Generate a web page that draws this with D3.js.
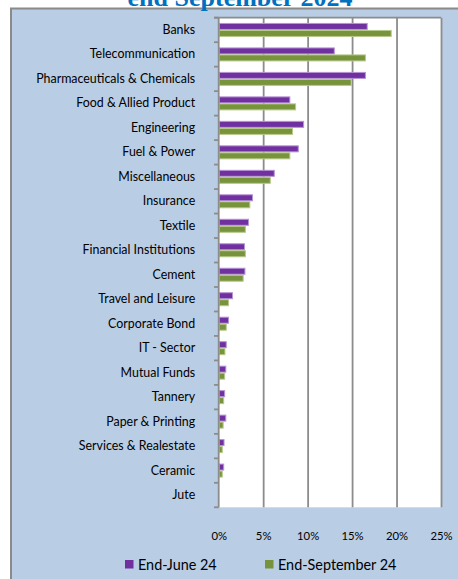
<!DOCTYPE html>
<html><head><meta charset="utf-8">
<script src="https://cdn.jsdelivr.net/npm/d3@7"></script>
<style>html,body{margin:0;padding:0;background:#fff;overflow:hidden}</style>
</head><body>
<svg id="c" width="458" height="579"></svg>
<script>
const categories = ["Banks","Telecommunication","Pharmaceuticals & Chemicals","Food & Allied Product","Engineering","Fuel & Power","Miscellaneous","Insurance","Textile","Financial Institutions","Cement","Travel and Leisure","Corporate Bond","IT - Sector","Mutual Funds","Tannery","Paper & Printing","Services & Realestate","Ceramic","Jute"];
const seriesNames = ["End-June 24","End-September 24"];
const juneValues = [16.7,13.0,16.5,8.0,9.55,8.95,6.25,3.8,3.35,2.9,2.95,1.55,1.1,0.85,0.8,0.67,0.8,0.6,0.56,0.05];
const septValues = [19.4,16.5,14.9,8.65,8.3,8.0,5.8,3.5,3.0,3.0,2.75,1.1,0.85,0.7,0.67,0.56,0.5,0.4,0.4,0.05];
const xTicks = [0,5,10,15,20,25];
const colors = ["#7030A0","#77933C"];
const edge = ["#B793D6","#B5C98A"];

const svg = d3.select("#c");
const F = "Lato, 'Open Sans', sans-serif";

// frame
svg.append("rect").attr("x",11).attr("y",8.5).attr("width",470).attr("height",600)
  .attr("fill","#B9CDE5").attr("stroke","#8a8a8a").attr("stroke-width",2);

// title (cut off at top, as in the reference)
svg.append("text").attr("x",240).attr("y",6).attr("text-anchor","middle")
  .attr("font-family","'Liberation Serif', 'Times New Roman', serif").attr("font-weight","bold")
  .attr("font-size",26).attr("fill","#0070C0").text("end September 2024");

const L = 218.7, R = 441, T = 17.7, B = 507.3;
const x = d3.scaleLinear().domain([0,25]).range([L,R]);
const y = d3.scaleBand().domain(categories).range([T,B]).paddingInner(0.428).paddingOuter(0.214);
const ys = d3.scaleBand().domain(seriesNames).range([0,y.bandwidth()]);

svg.append("rect").attr("x",L).attr("y",T).attr("width",R-L).attr("height",B-T).attr("fill","#fff");

// gridlines
const grid = svg.append("g").attr("transform",`translate(0,${T})`)
  .call(d3.axisBottom(x).tickValues(xTicks.slice(1)).tickSize(B-T).tickFormat(""));
grid.select(".domain").remove();
grid.selectAll("line").attr("stroke","#8c8c8c").attr("stroke-width",1.8);
svg.append("line").attr("x1",214).attr("x2",R).attr("y1",T).attr("y2",T).attr("stroke","#8c8c8c").attr("stroke-width",1.8);

// bars
const data = categories.map((c,i)=>({c, v:[juneValues[i],septValues[i]]}));
const g = svg.append("g");
data.forEach(d=>{
  d.v.forEach((v,j)=>{
    g.append("rect").attr("x",x(0)+0.5).attr("y",y(d.c)+ys(seriesNames[j])+0.5)
      .attr("width",Math.max(0,x(v)-x(0)-0.5)).attr("height",ys.bandwidth()-1)
      .attr("fill",colors[j]).attr("stroke",edge[j]).attr("stroke-width",1);
  });
});

// left axis with ticks at band boundaries
const boundaries = d3.range(categories.length+1).map(i=>T+i*y.step());
svg.append("line").attr("x1",L).attr("x2",L).attr("y1",T).attr("y2",B).attr("stroke","#8c8c8c").attr("stroke-width",1.8);
svg.selectAll(".tk").data(boundaries).join("line").attr("x1",214).attr("x2",L).attr("y1",d=>d).attr("y2",d=>d)
  .attr("stroke","#8c8c8c").attr("stroke-width",1.8);

// category labels
const yAxis = svg.append("g").attr("transform",`translate(${L},0)`)
  .call(d3.axisLeft(y).tickSize(0).tickPadding(23.5));
yAxis.select(".domain").remove();
yAxis.selectAll("text").attr("font-family",F).attr("font-size",12.4).attr("fill","#000");

// x tick labels
const xAxis = svg.append("g").attr("transform",`translate(0,${B})`)
  .call(d3.axisBottom(x).tickValues(xTicks).tickSize(0).tickPadding(25).tickFormat(d=>d+"%"));
xAxis.select(".domain").remove();
xAxis.selectAll("text").attr("font-family",F).attr("font-size",11.3).attr("fill","#000");

// legend
const leg = [{x:125,t:seriesNames[0],c:colors[0]},{x:265,t:seriesNames[1],c:colors[1]}];
leg.forEach(l=>{
  svg.append("rect").attr("x",l.x).attr("y",560).attr("width",8.5).attr("height",8.5).attr("fill",l.c);
  svg.append("text").attr("x",l.x+13).attr("y",569.5).attr("font-family",F).attr("font-size",14.4).attr("fill","#000").text(l.t);
});
</script>
</body></html>
